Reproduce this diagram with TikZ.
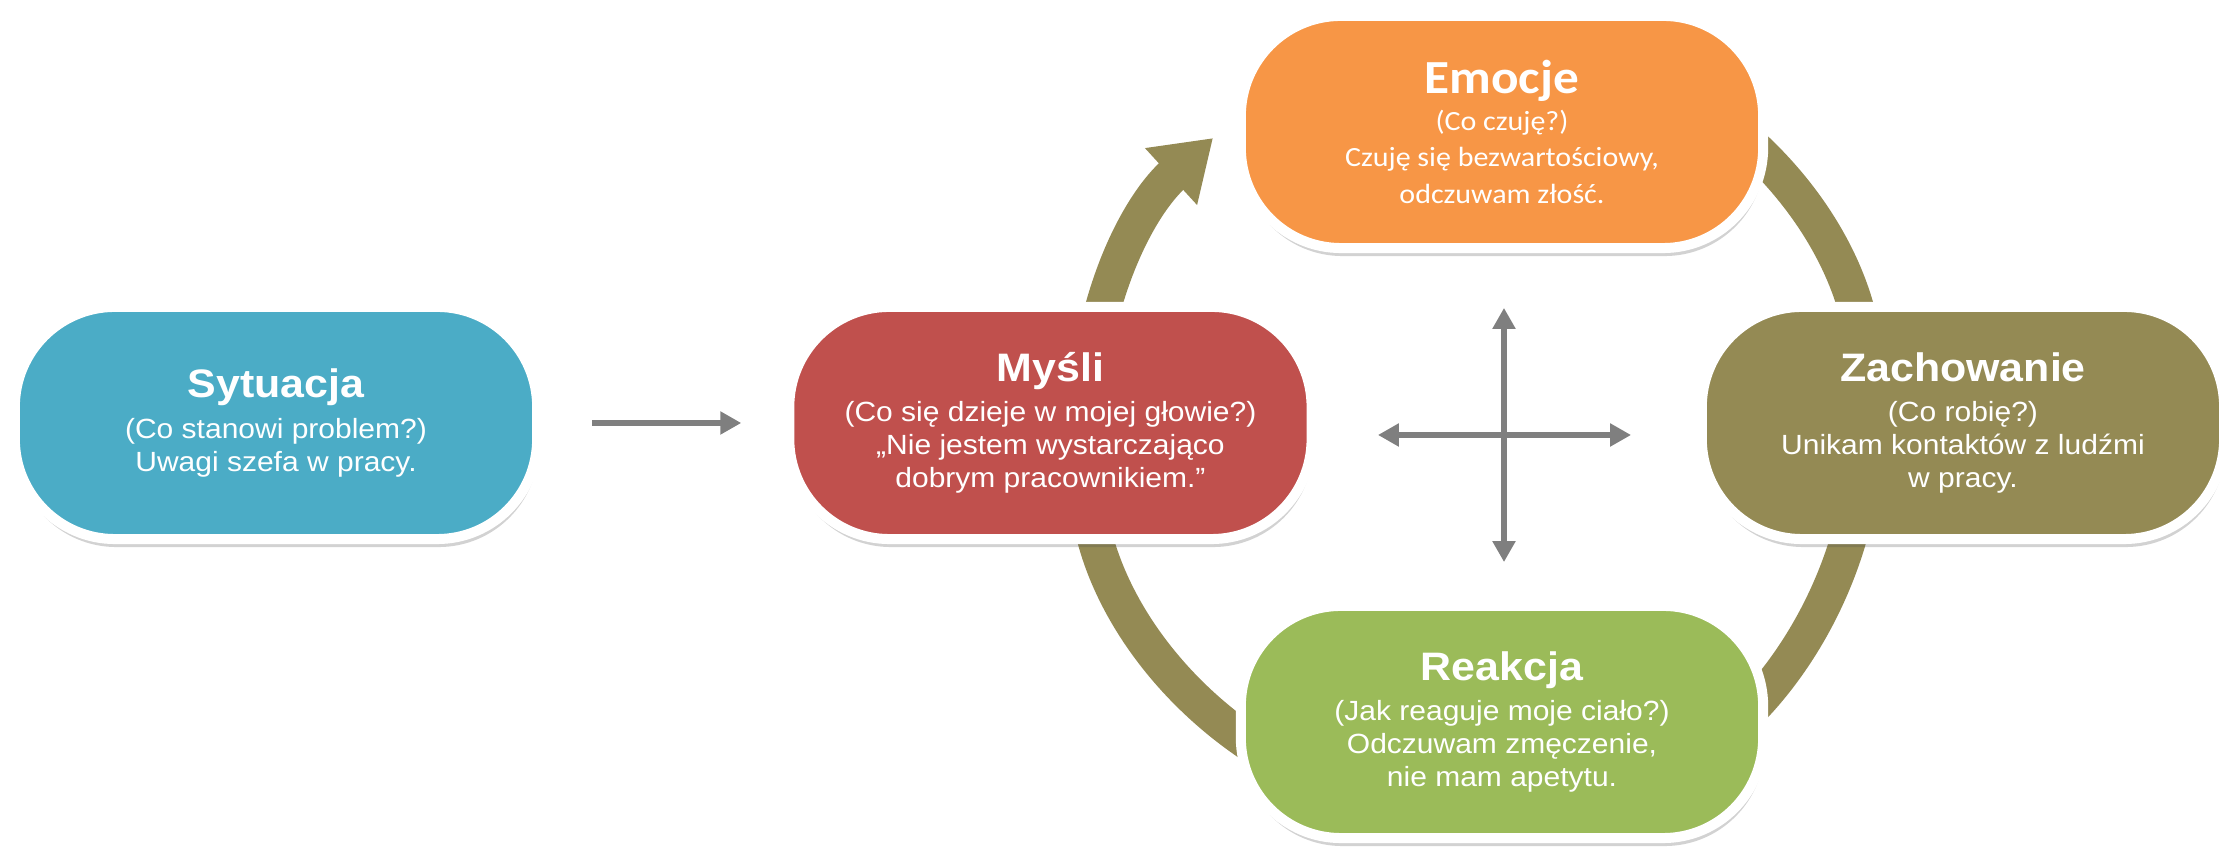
\documentclass[tikz,border=0pt]{standalone}
\usepackage{fontspec}
\setmainfont{Liberation Sans}[FakeStretch=1.08]
\newfontfamily\calibfont{Carlito}[FakeStretch=1.08]
\usetikzlibrary{positioning,arrows.meta,shadows}
\definecolor{sitblue}{HTML}{4BACC6}
\definecolor{myslired}{HTML}{C0504D}
\definecolor{emoorange}{HTML}{F79646}
\definecolor{zacholive}{HTML}{948A54}
\definecolor{reakgreen}{HTML}{9BBB59}
\definecolor{arrowgray}{HTML}{7F7F7F}
\newcommand{\boxhead}[1]{{\fontsize{11.3}{12}\selectfont\bfseries #1}}
\tikzset{
  cyclebox/.style={draw=white, line width=1mm, rounded corners=10mm,
    minimum width=52.2mm, minimum height=23.2mm, inner sep=0pt, align=center,
    text=white, font=\fontsize{7.9}{9.4}\selectfont,
    drop shadow={shadow xshift=0.15mm, shadow yshift=-0.8mm, fill=black!70, opacity=0.25}},
  cyclearc/.style={line width=3.6mm, draw=zacholive, -{Triangle[length=5.7mm, width=7.3mm]}},
  grayarrow/.style={line width=0.55mm, draw=arrowgray,
    >={Triangle[length=2.1mm, width=2.2mm]}, ->},
}

\begin{document}
\begin{tikzpicture}[x=0.01cm, y=0.01cm]
  \useasboundingbox (0,0) rectangle (2223,849);
  \coordinate (cyc) at (1476,424);
  \coordinate (hub) at (1504,414);
  % the cycle, behind the boxes
  \draw[cyclearc] ([shift={(182:3.89cm)}]cyc) arc[start angle=182, end angle=132.5, radius=3.89cm];
  \draw[cyclearc] ([shift={(80:3.89cm)}]cyc) arc[start angle=80, end angle=0, radius=3.89cm];
  \draw[cyclearc] ([shift={(-5:3.89cm)}]cyc) arc[start angle=-5, end angle=-70, radius=3.89cm];
  \draw[cyclearc] ([shift={(-100:3.89cm)}]cyc) arc[start angle=-100, end angle=-180, radius=3.89cm];

  \node[cyclebox, fill=sitblue] (sit) at (276,426) {\boxhead{Sytuacja}\\[2pt](Co stanowi problem?)\\Uwagi szefa w pracy.};
  \node[cyclebox, fill=myslired, right=2.42cm of sit] (mysli) {\boxhead{Myśli}\\[2pt](Co się dzieje w mojej głowie?)\\„Nie jestem wystarczająco\\dobrym pracownikiem.”};
  \node[cyclebox, fill=zacholive, right=3.8cm of mysli] (zach) {\boxhead{Zachowanie}\\[2pt](Co robię?)\\Unikam kontaktów z ludźmi\\w pracy.};
  \node[cyclebox, fill=emoorange, font=\calibfont\fontsize{7.9}{10.5}\selectfont] (emo) at (1502,717)
    {{\fontsize{13.5}{14}\selectfont\bfseries Emocje}\\[0pt](Co czuję?)\\Czuję się bezwartościowy,\\odczuwam złość.};
  \node[cyclebox, fill=reakgreen] (reak) at (1502,127) {\boxhead{Reakcja}\\[2pt](Jak reaguje moje ciało?)\\Odczuwam zmęczenie,\\nie mam apetytu.};

  \draw[grayarrow, shorten <=5mm, shorten >=4.3mm] (sit) -- (mysli);
  % cross in the middle
  \draw[grayarrow, <->] ([xshift=-12.6mm]hub) -- ([xshift=12.7mm]hub);
  \draw[grayarrow, <->] ([yshift=-12.7mm]hub) -- ([yshift=12.7mm]hub);
\end{tikzpicture}
\end{document}
